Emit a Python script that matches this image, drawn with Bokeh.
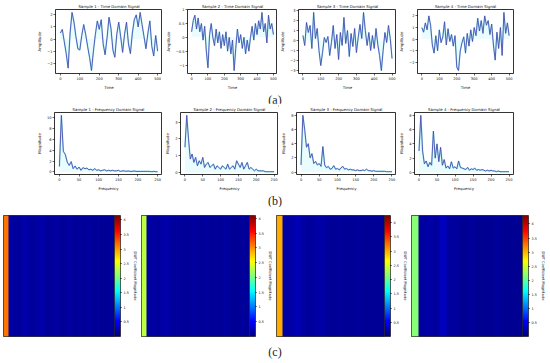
import numpy as np
from bokeh.plotting import figure
from bokeh.layouts import row, column
from bokeh.models import Div, ColorBar, LinearColorMapper, Title, FixedTicker
from bokeh.embed import file_html
from bokeh.resources import INLINE

# ---------------- data ----------------
TIME = list(range(0, 501, 10))
SIG1 = [0.5, 0.8, -0.2, -1.2, -2.4, 0.5, 2.2, 1.4, 0.2, -0.8, -0.9, 0.3, 1.2, 0.4, -0.6, -1.5, -2.6,
        -1.0, 0.4, 1.5, 0.8, 1.6, -0.4, -1.3, 0.1, 1.8, 0.9, -0.9, -1.5, 0.4, 1.4, 0.2, -1.1, 0.4,
        1.4, -0.4, -1.2, 0.5, 1.6, 2.0, 1.0, 2.2, 1.2, 0.2, -0.8, 0.5, 1.5, -0.6, -1.4, 0.3, -1.0]
SIG2 = [0.2, 0.6, 0.8, 0.3, 0.7, 0.2, 0.5, -0.1, 0.4, -0.5, -1.1, 0.1, 0.5, 0.0, -0.3, 0.3, -0.2,
        0.2, -0.4, 0.1, -0.3, 0.2, -0.5, 0.0, -0.6, -0.1, -1.2, -0.4, 0.3, -0.2, 0.1, -0.4, 0.0,
        -0.6, -0.1, -0.5, 0.0, 0.4, -0.1, 0.5, 0.1, 0.6, 0.3, 0.9, 0.2, 0.5, -0.2, 0.8, 0.3, 0.5, 0.1]
SIG3 = [0.5, -0.5, 1.8, 0.8, 1.5, -0.8, 2.8, 0.2, 1.2, -1.0, -2.5, -1.2, 0.3, -0.2, 0.4, -1.5, -0.2,
        1.5, -0.8, 0.6, -1.9, 0.8, -0.5, 2.3, -0.3, 1.0, -1.6, 0.7, -0.6, 1.2, -1.2, 0.3, 1.6, 0.2,
        2.8, 1.0, -0.5, 0.8, -1.0, 0.5, -0.8, 1.2, -0.4, -1.5, -3.0, -1.0, 0.8, -0.2, 1.5, 0.2, -1.8]
SIG4 = [1.0, 0.6, 1.4, 0.8, 2.0, 1.2, -0.5, -1.2, 0.3, -1.0, 0.8, -0.3, 0.2, 1.5, -0.5, 0.9, -0.2,
        0.4, -0.6, 0.3, -2.4, -2.7, -1.0, -0.3, 0.2, -1.2, 0.5, -0.6, 0.8, -0.2, 1.0, 0.3, 1.8, 0.7,
        1.6, 0.5, 2.0, 1.2, 1.6, 0.4, 1.3, -0.5, -1.8, 0.6, -0.8, 1.0, -1.4, 2.3, 0.5, 1.4, 0.3]

FREQ = list(range(0, 251, 5))
FFT1 = [1.0, 10.4, 3.8, 3.2, 1.8, 1.2, 1.9, 0.6, 1.1, 0.5, 0.9, 0.3, 0.8, 0.6, 0.7, 0.4, 0.5, 0.3,
        0.6, 0.3, 0.4, 0.2, 0.3, 0.4, 0.2, 0.3, 0.2, 0.3, 0.2, 0.2, 0.3, 0.1, 0.2, 0.2, 0.1, 0.2,
        0.1, 0.1, 0.2, 0.1, 0.1, 0.1, 0.1, 0.1, 0.1, 0.1, 0.1, 0.05, 0.1, 0.05, 0.05]
FFT2 = [1.5, 3.4, 2.0, 0.8, 1.1, 0.6, 0.9, 0.4, 0.7, 0.5, 0.9, 0.3, 0.5, 0.6, 0.3, 0.4, 0.5, 0.2,
        0.4, 0.3, 0.2, 0.4, 0.3, 0.2, 0.5, 0.2, 0.3, 0.4, 0.2, 0.7, 0.5, 0.3, 0.6, 0.2, 0.4, 0.6,
        0.2, 0.3, 0.2, 0.1, 0.2, 0.1, 0.1, 0.1, 0.1, 0.05, 0.05, 0.05, 0.05, 0.05, 0.05]
FFT3 = [1.0, 8.0, 6.0, 3.5, 4.0, 2.0, 2.6, 1.2, 1.5, 1.0, 1.2, 0.8, 3.6, 1.0, 0.6, 0.8, 0.4, 0.5,
        0.9, 0.4, 0.5, 0.3, 0.6, 0.8, 0.4, 0.5, 0.3, 0.4, 0.3, 0.3, 0.2, 0.3, 0.2, 0.2, 0.3, 0.2,
        0.4, 0.2, 0.2, 0.1, 0.2, 0.1, 0.1, 0.1, 0.1, 0.1, 0.1, 0.05, 0.05, 0.05, 0.05]
FFT4 = [3.0, 8.0, 3.0, 1.2, 1.6, 0.8, 1.4, 1.0, 5.8, 2.0, 4.0, 1.5, 3.5, 1.0, 1.8, 0.6, 0.9, 0.5,
        1.5, 0.6, 0.8, 0.5, 1.6, 0.7, 0.6, 0.5, 0.4, 0.7, 0.3, 0.5, 0.4, 0.6, 0.3, 0.4, 0.3, 0.4,
        0.3, 0.2, 0.3, 0.2, 0.3, 0.2, 0.2, 0.1, 0.2, 0.1, 0.1, 0.1, 0.1, 0.1, 0.1]

DWT1 = [3.15, 0.15, 0.14, 0.12, 0.2, 0.14, 0.12, 0.15, 0.18, 0.1, 0.12, 0.15, 0.1, 0.12, 0.15, 0.1,
        0.12, 0.1, 0.14, 0.1, 0.12, 0.1, 0.1, 0.12]
DWT2 = [2.3, 0.14, 0.16, 0.12, 0.15, 0.2, 0.14, 0.12, 0.14, 0.1, 0.12, 0.14, 0.12, 0.1, 0.14, 0.1,
        0.12, 0.1, 0.14, 0.12, 0.1, 0.1, 0.12, 0.1]
DWT3 = [3.0, 0.16, 0.18, 0.24, 0.15, 0.12, 0.15, 0.18, 0.12, 0.1, 0.12, 0.1, 0.1, 0.12, 0.1, 0.1,
        0.1, 0.1]
DWT4 = [2.2, 0.15, 0.18, 0.15, 0.28, 0.15, 0.12, 0.1, 0.12, 0.1, 0.1, 0.1, 0.12, 0.1, 0.1, 0.1]
DWT_MAX = [4.15, 4.1, 4.25, 4.3]
CB_TICKS = [0.5, 1.0, 1.5, 2.0, 2.5, 3.0, 3.5, 4.0]

TIME_TICKS = [0, 100, 200, 300, 400, 500]
FREQ_TICKS = [0, 50, 100, 150, 200, 250]
SIG_YTICKS = [[-2, -1, 0, 1, 2], [-1.0, -0.5, 0.0, 0.5, 1.0], [-3, -2, -1, 0, 1, 2, 3], [-2, -1, 0, 1, 2]]
FFT_YTICKS = [[0, 2, 4, 6, 8, 10], [0, 1, 2, 3], [0, 2, 4, 6, 8], [0, 2, 4, 6, 8]]

# ---------------- style ----------------
FONT = "DejaVu Sans"
LINE = "#4a4cae"
CYAN = "#4fe3ec"
TITLE_SIZE = "3.9px"
TICK_SIZE = "3.6px"
LABEL_SIZE = "3.9px"
TEXT_COLOR = "#111111"


def jet(n=256):
    out = []
    for i in range(n):
        x = i / (n - 1)
        r = min(max(1.5 - abs(4 * x - 3), 0), 1)
        g = min(max(1.5 - abs(4 * x - 2), 0), 1)
        b = min(max(1.5 - abs(4 * x - 1), 0), 1)
        out.append("#%02x%02x%02x" % (int(r * 255), int(g * 255), int(b * 255)))
    return out


JET = jet()


def pad(lo, hi):
    s = hi - lo
    return (lo - 0.05 * s, hi + 0.05 * s)


def style_axes(p, xticks, yticks, xlabel, ylabel):
    p.outline_line_color = "black"
    p.outline_line_width = 0.8
    p.grid.visible = False
    p.xaxis.ticker = FixedTicker(ticks=xticks)
    p.yaxis.ticker = FixedTicker(ticks=yticks)
    p.xaxis.axis_label = xlabel
    p.yaxis.axis_label = ylabel
    for ax in (p.xaxis[0], p.yaxis[0]):
        ax.axis_line_color = None
        ax.major_tick_in = 0
        ax.major_tick_out = 2
        ax.major_tick_line_width = 0.6
        ax.minor_tick_line_color = None
        ax.major_label_text_font = FONT
        ax.major_label_text_font_size = TICK_SIZE
        ax.major_label_text_color = TEXT_COLOR
        ax.major_label_standoff = 1
        ax.axis_label_text_font = FONT
        ax.axis_label_text_font_size = LABEL_SIZE
        ax.axis_label_text_color = TEXT_COLOR
        ax.axis_label_text_font_style = "normal"
        ax.axis_label_standoff = 2
    p.title.text_font = FONT
    p.title.text_font_size = TITLE_SIZE
    p.title.text_color = TEXT_COLOR
    p.title.text_font_style = "normal"
    p.title.align = "center"
    p.title.standoff = 2


def line_panel(title, xs, ys, xr, yticks, xticks, xlabel, ylabel, mbl, fw, mbr, mbt, fh, mbb):
    p = figure(width=mbl + fw + mbr, height=mbt + fh + mbb, min_border_left=mbl, min_border_right=mbr,
               min_border_top=mbt, min_border_bottom=mbb, x_range=xr, y_range=pad(min(ys), max(ys)),
               title=title, output_backend="svg", toolbar_location=None)
    p.varea(x=xs, y1=[0] * len(xs), y2=ys, fill_color=CYAN, fill_alpha=0.12)
    p.line(xs, ys, line_color=CYAN, line_width=1.6, line_alpha=0.45)
    p.line(xs, ys, line_color=LINE, line_width=0.9)
    style_axes(p, xticks, yticks, xlabel, ylabel)
    return p


def heat_panel(vals, vmax, mbl, fw, mbr):
    n = len(vals)
    img = np.tile(np.array(vals, dtype=float), (8, 1))
    mapper = LinearColorMapper(palette=JET, low=0, high=vmax)
    p = figure(width=mbl + fw + mbr, height=9 + 121 + 8, min_border_left=mbl, min_border_right=mbr,
               min_border_top=9, min_border_bottom=8, x_range=(0, n), y_range=(0, 1),
               output_backend="svg", toolbar_location=None)
    p.image(image=[img], x=0, y=0, dw=n, dh=1, color_mapper=mapper)
    p.axis.visible = False
    p.grid.visible = False
    p.outline_line_color = "black"
    p.outline_line_width = 0.8
    cb = ColorBar(color_mapper=mapper, width=6, height=121, padding=0, margin=0,
                  ticker=FixedTicker(ticks=CB_TICKS), bar_line_color="black", bar_line_width=0.6,
                  major_tick_in=0, major_tick_out=1, major_tick_line_color="black",
                  major_label_text_font=FONT, major_label_text_font_size="3.4px",
                  major_label_text_color=TEXT_COLOR, label_standoff=2)
    p.add_layout(cb, "right")
    t = Title(text="DWT Coefficient Magnitude", text_font=FONT, text_font_size="3.6px",
              text_color=TEXT_COLOR, text_font_style="normal", align="center", standoff=3)
    p.add_layout(t, "right")
    return p


def label_div(txt, h):
    return Div(text='<div style="width:550px;text-align:center;font-family:\'Liberation Serif\';'
                    'font-size:12px;line-height:%dpx;color:#222">%s</div>' % (h, txt),
               width=550, height=h, margin=0)


sigs = [SIG1, SIG2, SIG3, SIG4]
ffts = [FFT1, FFT2, FFT3, FFT4]
dwts = [DWT1, DWT2, DWT3, DWT4]

# borders per panel (left, frame width, right)
TA = [(55, 107, 0), (14, 101, 0), (13, 106, 0), (13, 104, 37)]
FA = [(54, 108, 0), (8, 108, 0), (10, 108, 0), (11, 106, 37)]
HA = [(3, 112, 25), (1, 110, 24), (1, 110, 24), (1, 111, 28)]

row_a = row(*[line_panel("Sample %d - Time Domain Signal" % (i + 1), TIME, sigs[i], (-25, 525),
                         SIG_YTICKS[i], TIME_TICKS, "Time", "Amplitude", *TA[i], 9, 68, 15)
              for i in range(4)])
row_b = row(*[line_panel("Sample %d - Frequency Domain Signal" % (i + 1), FREQ, ffts[i], (-12.5, 262.5),
                         FFT_YTICKS[i], FREQ_TICKS, "Frequency", "Magnitude", *FA[i], 8, 67, 15)
              for i in range(4)])
row_c = row(*[heat_panel(dwts[i], DWT_MAX[i], *HA[i]) for i in range(4)])

p = column(row_a, label_div("(a)", 11), row_b, label_div("(b)", 13), row_c, label_div("(c)", 14))

open("out.html", "w").write(file_html(p, INLINE))
